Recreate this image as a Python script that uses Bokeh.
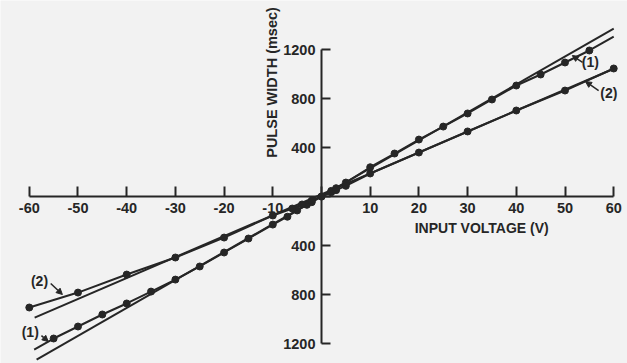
from bokeh.plotting import figure
from bokeh.models import LinearAxis, FixedTicker, Label, Arrow, NormalHead, Range1d
from bokeh.embed import file_html
from bokeh.resources import INLINE

# ---- data ----
x_ticks = [-60, -50, -40, -30, -20, -10, 0, 10, 20, 30, 40, 50, 60]
y_ticks = [-1200, -800, -400, 0, 400, 800, 1200]

# curve (1): measured points
volts_1 = [-55, -50, -45, -40, -35, -30, -25, -20, -15, -10, -7, -5, -3, -2, 0,
           2, 3, 5, 10, 15, 20, 25, 30, 35, 40, 45, 50, 55]
width_1 = [-1159, -1061, -963, -873, -776, -678, -571, -457, -343, -229, -165, -114, -68, -46, 0,
           46, 68, 114, 239, 351, 465, 571, 678, 792, 906, 996, 1094, 1192]
# curve (1) drawn a little past the last points
curve1_ends_v = [-59, 60]
curve1_ends_w = [-1249, 1306]

# curve (2): measured points
volts_2 = [-60, -50, -40, -30, -20, -10, -6, -4, -2, 0, 2, 3, 5, 10, 20, 30, 40, 50, 60]
width_2 = [-906, -784, -637, -498, -335, -155, -98, -65, -33, 0, 35, 52, 87, 188, 359, 531, 702, 865, 1045]

# straight reference lines
ideal1_v = [-58.5, 60]
ideal1_w = [-1331, 1371]
ideal2_v = [-58.9, 60.6]
ideal2_w = [-988, 1053]

INK = "#262626"
BG = "#f2f2f2"
FONT = "Liberation Sans"

p = figure(width=627, height=363, output_backend="svg", toolbar_location=None,
           x_axis_type=None, y_axis_type=None, min_border=0,
           x_range=Range1d(-65.91, 62.83), y_range=Range1d(-1363, 1600))
p.background_fill_color = BG
p.border_fill_color = BG
p.outline_line_color = None

# axes crossing at the origin
xaxis = LinearAxis(fixed_location=0, ticker=FixedTicker(ticks=x_ticks), bounds=(-60, 60))
xaxis.major_label_overrides = {t: ("" if t == 0 else str(t)) for t in x_ticks}
yaxis = LinearAxis(fixed_location=0, ticker=FixedTicker(ticks=y_ticks), bounds=(-1200, 1200))
yaxis.major_label_overrides = {t: ("" if t == 0 else str(abs(t))) for t in y_ticks}
for ax, tin in ((xaxis, 10), (yaxis, 9)):
    ax.axis_line_color = INK
    ax.axis_line_width = 2
    ax.major_tick_line_color = INK
    ax.major_tick_line_width = 2
    ax.major_tick_in = tin
    ax.major_tick_out = 0
    ax.minor_tick_line_color = None
    ax.major_label_text_font = FONT
    ax.major_label_text_font_size = "14.5px"
    ax.major_label_text_font_style = "bold"
    ax.major_label_text_color = INK
p.add_layout(xaxis, "below")
p.add_layout(yaxis, "left")
xaxis.major_label_standoff = 6
yaxis.major_label_standoff = 6

# straight lines
p.line(ideal1_v, ideal1_w, line_color=INK, line_width=2)
p.line(ideal2_v, ideal2_w, line_color=INK, line_width=2)

# measured curves
l1v = [curve1_ends_v[0]] + volts_1 + [curve1_ends_v[1]]
l1w = [curve1_ends_w[0]] + width_1 + [curve1_ends_w[1]]
p.line(l1v, l1w, line_color=INK, line_width=2)
p.scatter(volts_1, width_1, size=7, fill_color=INK, line_color=INK)
p.line(volts_2, width_2, line_color=INK, line_width=2)
p.scatter(volts_2, width_2, size=7, fill_color=INK, line_color=INK)

# axis titles
p.add_layout(Label(x=32.9, y=-261, text="INPUT VOLTAGE (V)", text_font=FONT,
                   text_font_size="14px", text_font_style="bold", text_color=INK,
                   text_align="center", text_baseline="middle"))
p.add_layout(Label(x=-10.1, y=931, text="PULSE WIDTH (msec)", angle=1.5708,
                   text_font=FONT, text_font_size="14.5px", text_font_style="bold",
                   text_color=INK, text_align="center", text_baseline="middle"))

# curve labels with arrows
tags = [
    ("(1)", 55.2, 1094, 53.6, 1094, 51.5, 1151),
    ("(2)", 59.0, 841, 56.9, 865, 54.2, 939),
    ("(2)", -57.9, -686, -55.6, -710, -53.2, -800),
    ("(1)", -59.8, -1102, -57.5, -1135, -56.1, -1184),
]
for txt, tx, ty, x0, y0, x1, y1 in tags:
    p.add_layout(Label(x=tx, y=ty, text=txt, text_font=FONT, text_font_size="14px",
                       text_font_style="bold", text_color=INK, text_align="center",
                       text_baseline="middle"))
    p.add_layout(Arrow(x_start=x0, y_start=y0, x_end=x1, y_end=y1, line_color=INK,
                       line_width=1.5,
                       end=NormalHead(size=6, fill_color=INK, line_color=INK)))

open("out.html", "w").write(file_html(p, INLINE))
